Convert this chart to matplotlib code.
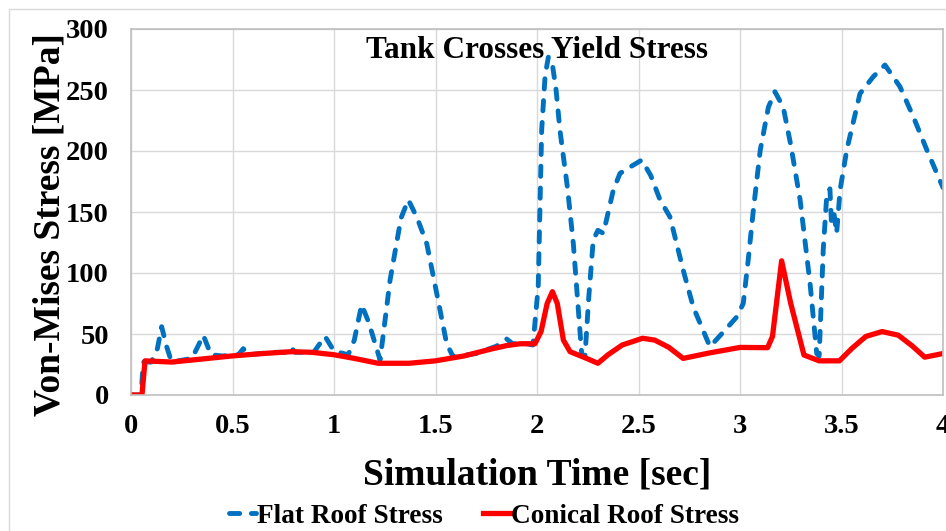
import matplotlib
matplotlib.use("Agg")
import matplotlib.pyplot as plt
from matplotlib.lines import Line2D

# Flat roof tank, von Mises stress [MPa] vs time [sec]
flat_t = [0.0, 0.05, 0.06, 0.1, 0.13, 0.151, 0.175, 0.2, 0.3, 0.33, 0.356, 0.394,
          0.45, 0.53, 0.553, 0.58, 0.7, 0.76, 0.783, 0.81, 0.9, 0.93, 0.956, 1.0,
          1.07, 1.1, 1.136, 1.17, 1.227, 1.276, 1.33, 1.366, 1.41, 1.457, 1.51,
          1.555, 1.588, 1.7, 1.8, 1.85, 1.88, 1.95, 1.98, 2.006, 2.023, 2.04,
          2.056, 2.075, 2.094, 2.113, 2.15, 2.179, 2.22, 2.236, 2.255, 2.277,
          2.30, 2.327, 2.376, 2.409, 2.45, 2.516, 2.56, 2.606, 2.655, 2.72, 2.77,
          2.852, 2.92, 2.984, 3.016, 3.04, 3.066, 3.10, 3.14, 3.172, 3.213, 3.25,
          3.296, 3.345, 3.378, 3.39, 3.41, 3.427, 3.443, 3.45, 3.462, 3.476,
          3.493, 3.526, 3.591, 3.657, 3.714, 3.788, 3.854, 3.92, 4.0]
flat_v = [0, 0, 27, 27, 38, 56, 40, 27, 30, 40, 49, 33,
          32, 33, 38, 33, 35, 35, 39.6, 35, 35, 42, 48, 36,
          33, 45, 74, 60, 28.7, 94, 145, 160, 145, 124, 80,
          42, 31, 34, 40, 46, 42, 42, 41, 88.8, 217, 262,
          277, 272, 250, 217, 170, 124, 34, 31, 80, 127,
          135, 132.5, 168, 181.7, 186, 192.6, 180, 160, 146, 102.5, 72,
          39.6, 52, 64, 75, 110, 152, 201, 236, 248.6, 236, 205,
          160, 91.5, 34, 32, 119, 162.5, 169, 143, 150, 132.5,
          168, 201, 247, 261, 270.5, 252.7, 228, 201, 170]

# Conical roof tank
con_t = [0.0, 0.054, 0.069, 0.2, 0.35, 0.496, 0.65, 0.79, 0.89, 1.0, 1.1, 1.218,
         1.3, 1.37, 1.5, 1.64, 1.77, 1.85, 1.916, 1.99, 2.02, 2.05, 2.076, 2.10,
         2.13, 2.163, 2.23, 2.30, 2.35, 2.42, 2.52, 2.58, 2.65, 2.72, 2.85,
         3.0, 3.136, 3.16, 3.205, 3.25, 3.315, 3.39, 3.49, 3.55, 3.62, 3.70,
         3.78, 3.85, 3.91, 4.0]
con_v = [0, 0, 28, 27, 29.5, 32, 34, 35.5, 35, 33, 30, 26,
         26, 26, 28, 32, 37.5, 40.5, 42, 42, 52, 75, 84.7, 75,
         45, 35.5, 31, 26, 33, 41, 46.5, 45, 39, 30, 34.5,
         39, 38.8, 48, 110, 75, 32.8, 28, 28, 38, 48, 52,
         49, 40, 31, 34]

x_ticks = [0, 0.5, 1, 1.5, 2, 2.5, 3, 3.5, 4]
x_tick_labels = ["0", "0.5", "1", "1.5", "2", "2.5", "3", "3.5", "4"]
y_ticks = [0, 50, 100, 150, 200, 250, 300]

plt.rcParams["font.family"] = ["Liberation Serif", "DejaVu Serif"]
plt.rcParams["font.weight"] = "bold"

fig = plt.figure(figsize=(9.46, 5.31), dpi=100)
ax = fig.add_axes([131 / 946, 1 - 395 / 531, (943 - 131) / 946, (395 - 29) / 531])

ax.plot(flat_t, flat_v, color="#0070c0", lw=3.5, linestyle=(0, (2.1, 2.4)),
        dash_capstyle="round", label="Flat Roof Stress")
ax.plot(con_t, con_v, color="#ff0000", lw=3.8, solid_joinstyle="round",
        label="Conical Roof Stress")

ax.set_xlim(0, 4)
ax.set_ylim(0, 300)
ax.set_xticks(x_ticks)
ax.set_xticklabels(x_tick_labels)
ax.set_yticks(y_ticks)
ax.tick_params(length=0, labelsize=20.5)
ax.tick_params(axis="x", pad=14)
ax.tick_params(axis="y", pad=16)
for lab in ax.get_xticklabels() + ax.get_yticklabels():
    lab.set_fontweight("bold")

ax.grid(True, color="#d9d9d9", lw=1)
ax.set_axisbelow(True)
for sp in ax.spines.values():
    sp.set_color("#bfbfbf")
    sp.set_linewidth(1.2)

ax.set_xlabel("Simulation Time [sec]", fontsize=27, fontweight="bold", labelpad=13)
ax.set_ylabel("Von-Mises Stress [MPa]", fontsize=27, fontweight="bold")
ax.yaxis.set_label_coords(-0.078, 0.465)
ax.text(0.5, 0.94, "Tank Crosses Yield Stress", transform=ax.transAxes,
        ha="center", va="center", fontsize=22.5, fontweight="bold")

fig.legend(loc="center", bbox_to_anchor=(484 / 946, 1 - 516 / 531), ncol=2,
           frameon=False, prop={"size": 19.6, "weight": "bold"},
           handles=ax.get_lines(), handlelength=1.0,
           handletextpad=0.05, columnspacing=1.45)

# light chart-area border
fig.add_artist(Line2D([9 / 946, 9 / 946, 1], [0, 1 - 9 / 531, 1 - 9 / 531],
                      transform=fig.transFigure, color="#d9d9d9", lw=1))

fig.savefig("out.png", dpi=100)
